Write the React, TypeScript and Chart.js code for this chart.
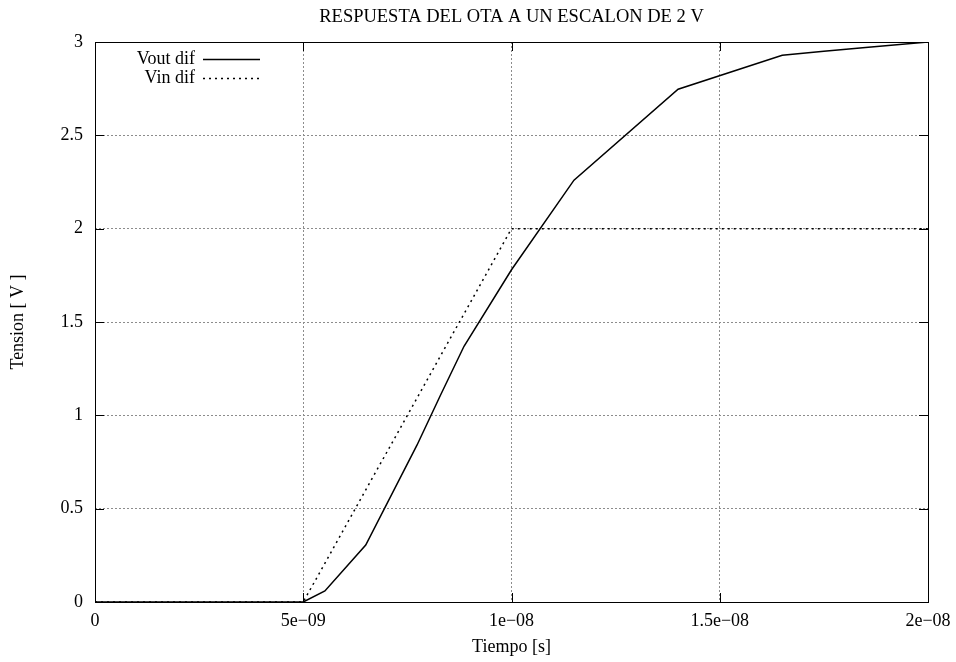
import React, { useEffect, useRef } from "react";
import { Chart, registerables } from "chart.js";

Chart.register(...registerables);

// Data (time in seconds, voltage in volts)
const voutTime = [0, 5e-9, 5.52e-9, 6.5e-9, 7.73e-9, 8.3e-9, 8.86e-9, 1e-8, 1.15e-8, 1.4e-8, 1.65e-8, 1.75e-8, 1.85e-8, 2e-8];
const voutValues = [0, 0, 0.059, 0.305, 0.84, 1.11, 1.37, 1.78, 2.26, 2.747, 2.929, 2.95, 2.97, 3.0];
const vinTime = [0, 5e-9, 1e-8, 2e-8];
const vinValues = [0, 0, 2, 2];

const xTickValues = [0, 5e-9, 1e-8, 1.5e-8, 2e-8];
const xTickLabels = ["0", "5e\u221209", "1e\u221208", "1.5e\u221208", "2e\u221208"];
const yTickValues = [0, 0.5, 1, 1.5, 2, 2.5, 3];
const yTickLabels = ["0", "0.5", "1", "1.5", "2", "2.5", "3"];

const titleText = "RESPUESTA DEL OTA A UN ESCALON DE 2 V";
const xTitle = "Tiempo [s]";
const yTitle = "Tension [ V ]";
const seriesNames = ["Vout dif", "Vin dif"];

const FONT = "'Liberation Serif', 'Times New Roman', serif";
const FS = 18;

const gnuplotPlugin = {
  id: "gnuplotDecor",
  afterDatasetsDraw(chart: any) {
    const { ctx, chartArea } = chart;
    const { left, right, top, bottom } = chartArea;
    const xs = chart.scales.x;
    const ys = chart.scales.y;
    ctx.save();
    ctx.strokeStyle = "#000";
    ctx.lineWidth = 1;
    ctx.setLineDash([]);
    // border
    ctx.strokeRect(Math.round(left) + 0.5, Math.round(top) + 0.5, Math.round(right - left), Math.round(bottom - top));
    // inward ticks
    const tl = 9;
    ctx.beginPath();
    xTickValues.forEach((v) => {
      const px = Math.round(xs.getPixelForValue(v)) + 0.5;
      ctx.moveTo(px, bottom);
      ctx.lineTo(px, bottom - tl);
      ctx.moveTo(px, top);
      ctx.lineTo(px, top + tl);
    });
    yTickValues.forEach((v) => {
      const py = Math.round(ys.getPixelForValue(v)) + 0.5;
      ctx.moveTo(left, py);
      ctx.lineTo(left + tl, py);
      ctx.moveTo(right, py);
      ctx.lineTo(right - tl, py);
    });
    ctx.stroke();

    // texts
    ctx.fillStyle = "#000";
    ctx.textAlign = "center";
    ctx.textBaseline = "middle";
    ctx.font = `18.5px ${FONT}`;
    ctx.fillText(titleText, (left + right) / 2, 17);
    ctx.font = `${FS}px ${FONT}`;
    ctx.fillText(xTitle, (left + right) / 2, 647);
    ctx.save();
    ctx.translate(18, (top + bottom) / 2);
    ctx.rotate(-Math.PI / 2);
    ctx.fillText(yTitle, 0, 0);
    ctx.restore();

    // legend
    const rows = [59, 78];
    ctx.textAlign = "right";
    chart.data.datasets.forEach((ds: any, i: number) => {
      const y = rows[i];
      ctx.fillStyle = "#000";
      ctx.fillText(ds.label, 195, y);
      ctx.beginPath();
      ctx.strokeStyle = "#000";
      ctx.lineWidth = 1.4;
      ctx.setLineDash(ds.borderDash || []);
      ctx.moveTo(203, Math.round(y) + 0.5);
      ctx.lineTo(260, Math.round(y) + 0.5);
      ctx.stroke();
    });
    ctx.restore();
  },
};

export default function App() {
  const ref = useRef<HTMLCanvasElement | null>(null);
  useEffect(() => {
    if (!ref.current) return;
    const chart = new Chart(ref.current, {
      type: "scatter",
      data: {
        datasets: [
          {
            label: seriesNames[0],
            data: voutTime.map((t, i) => ({ x: t, y: voutValues[i] })),
            showLine: true,
            borderColor: "#000",
            borderWidth: 1.5,
            pointRadius: 0,
            tension: 0,
            fill: false,
          },
          {
            label: seriesNames[1],
            data: vinTime.map((t, i) => ({ x: t, y: vinValues[i] })),
            showLine: true,
            borderColor: "#000",
            borderWidth: 1.5,
            borderDash: [2, 4],
            pointRadius: 0,
            tension: 0,
            fill: false,
          },
        ],
      },
      options: {
        animation: false,
        responsive: false,
        devicePixelRatio: 1,
        layout: { padding: { left: 0, top: 42, right: 28, bottom: 0 } },
        plugins: { legend: { display: false }, title: { display: false }, tooltip: { enabled: false } },
        scales: {
          x: {
            type: "linear",
            min: 0,
            max: 2e-8,
            afterFit: (s: any) => {
              s.height = 60;
              s.paddingLeft = 0;
              s.paddingRight = 0;
            },
            afterBuildTicks: (s: any) => {
              s.ticks = xTickValues.map((v) => ({ value: v }));
            },
            ticks: {
              autoSkip: false,
              maxRotation: 0,
              padding: 8,
              color: "#000",
              font: { family: FONT, size: FS },
              callback: (v: any) => {
                const i = xTickValues.findIndex((t) => Math.abs(t - v) < 1e-12);
                return i >= 0 ? xTickLabels[i] : "";
              },
            },
            grid: {
              drawTicks: false,
              lineWidth: 1,
              color: (c: any) =>
                c.tick && (c.tick.value === 0 || Math.abs(c.tick.value - 2e-8) < 1e-12) ? "rgba(0,0,0,0)" : "#8c8c8c",
            },
            border: { display: false, dash: [2, 2] },
          },
          y: {
            type: "linear",
            min: 0,
            max: 3,
            afterFit: (s: any) => {
              s.width = 95;
              s.paddingTop = 0;
              s.paddingBottom = 0;
            },
            afterBuildTicks: (s: any) => {
              s.ticks = yTickValues.map((v) => ({ value: v }));
            },
            ticks: {
              autoSkip: false,
              padding: 12,
              color: "#000",
              font: { family: FONT, size: FS },
              callback: (v: any) => {
                const i = yTickValues.findIndex((t) => Math.abs(t - v) < 1e-9);
                return i >= 0 ? yTickLabels[i] : "";
              },
            },
            grid: {
              drawTicks: false,
              lineWidth: 1,
              color: (c: any) =>
                c.tick && (c.tick.value === 0 || c.tick.value === 3) ? "rgba(0,0,0,0)" : "#8c8c8c",
            },
            border: { display: false, dash: [2, 2] },
          },
        },
      },
      plugins: [gnuplotPlugin],
    });
    return () => chart.destroy();
  }, []);
  return (
    <div style={{ position: "fixed", left: 0, top: 0, width: 956, height: 662, background: "#fff" }}>
      <canvas ref={ref} width={956} height={662} style={{ display: "block" }} />
    </div>
  );
}
